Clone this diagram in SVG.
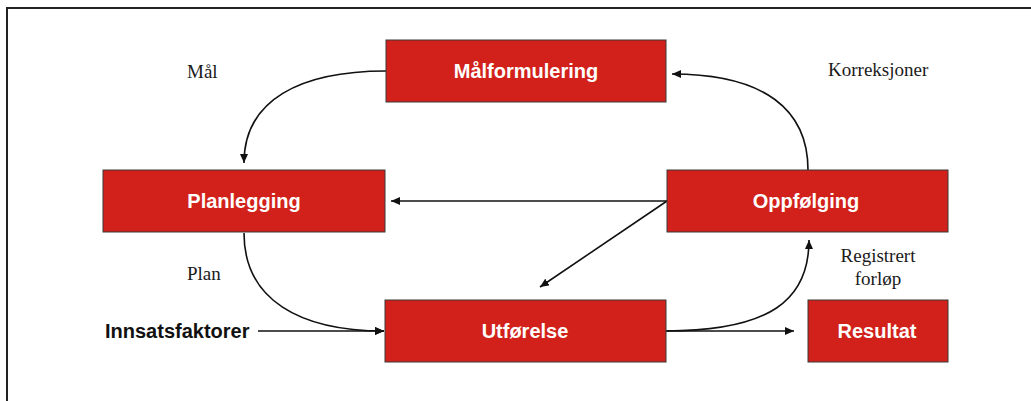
<svg xmlns="http://www.w3.org/2000/svg" width="1031" height="401" viewBox="0 0 1031 401">
<defs>
<style>
.box{fill:#D2211A;stroke:#3a3a3a;stroke-width:1}
.bl{font-family:"Liberation Sans",Arial,sans-serif;font-weight:bold;font-size:20px;fill:#fff;text-anchor:middle}
.lbl{font-family:"Liberation Serif","Times New Roman",serif;font-size:19px;fill:#1a1a1a}
.con{fill:none;stroke:#111;stroke-width:1.6;marker-end:url(#ah)}
</style>
<marker id="ah" markerUnits="userSpaceOnUse" markerWidth="10" markerHeight="8" refX="9" refY="4" orient="auto">
<path d="M0,0 L9,4 L0,8 z" fill="#111"/>
</marker>
</defs>
<rect x="7" y="8" width="1050" height="420" fill="#fff" stroke="#222" stroke-width="2"/>
<g id="connectors">
<path class="con" d="M386,71 C300,71 244,100 244,163"/>
<path class="con" d="M244,233 C244,300 300,331 384,331"/>
<path class="con" d="M258,331 L384,331"/>
<path class="con" d="M667,201 L391,201"/>
<path class="con" d="M667,201 L540,287"/>
<path class="con" d="M666,331 L794,331"/>
<path class="con" d="M666,331 C770,331 809,300 809,240"/>
<path class="con" d="M808,170 C808,110 765,74 672,74"/>
</g>
<g id="malformulering"><rect class="box" x="386" y="40" width="280" height="62"/><text class="bl" x="526" y="78">Målformulering</text></g>
<g id="planlegging"><rect class="box" x="103" y="170" width="282" height="62"/><text class="bl" x="244" y="208">Planlegging</text></g>
<g id="oppfolging"><rect class="box" x="667" y="170" width="281" height="62"/><text class="bl" x="806" y="208">Oppfølging</text></g>
<g id="utforelse"><rect class="box" x="385" y="300" width="281" height="62"/><text class="bl" x="525" y="338">Utførelse</text></g>
<g id="resultat"><rect class="box" x="808" y="300" width="140" height="62"/><text class="bl" x="877" y="338">Resultat</text></g>
<g id="innsatsfaktorer"><text x="105" y="338" font-family="'Liberation Sans',Arial,sans-serif" font-weight="bold" font-size="20" fill="#111">Innsatsfaktorer</text></g>
<g id="labels">
<text class="lbl" x="187" y="78">Mål</text>
<text class="lbl" x="828" y="76">Korreksjoner</text>
<text class="lbl" x="187" y="280">Plan</text>
<text class="lbl" x="878" y="262" text-anchor="middle">Registrert</text>
<text class="lbl" x="878" y="285" text-anchor="middle">forløp</text>
</g>
</svg>
